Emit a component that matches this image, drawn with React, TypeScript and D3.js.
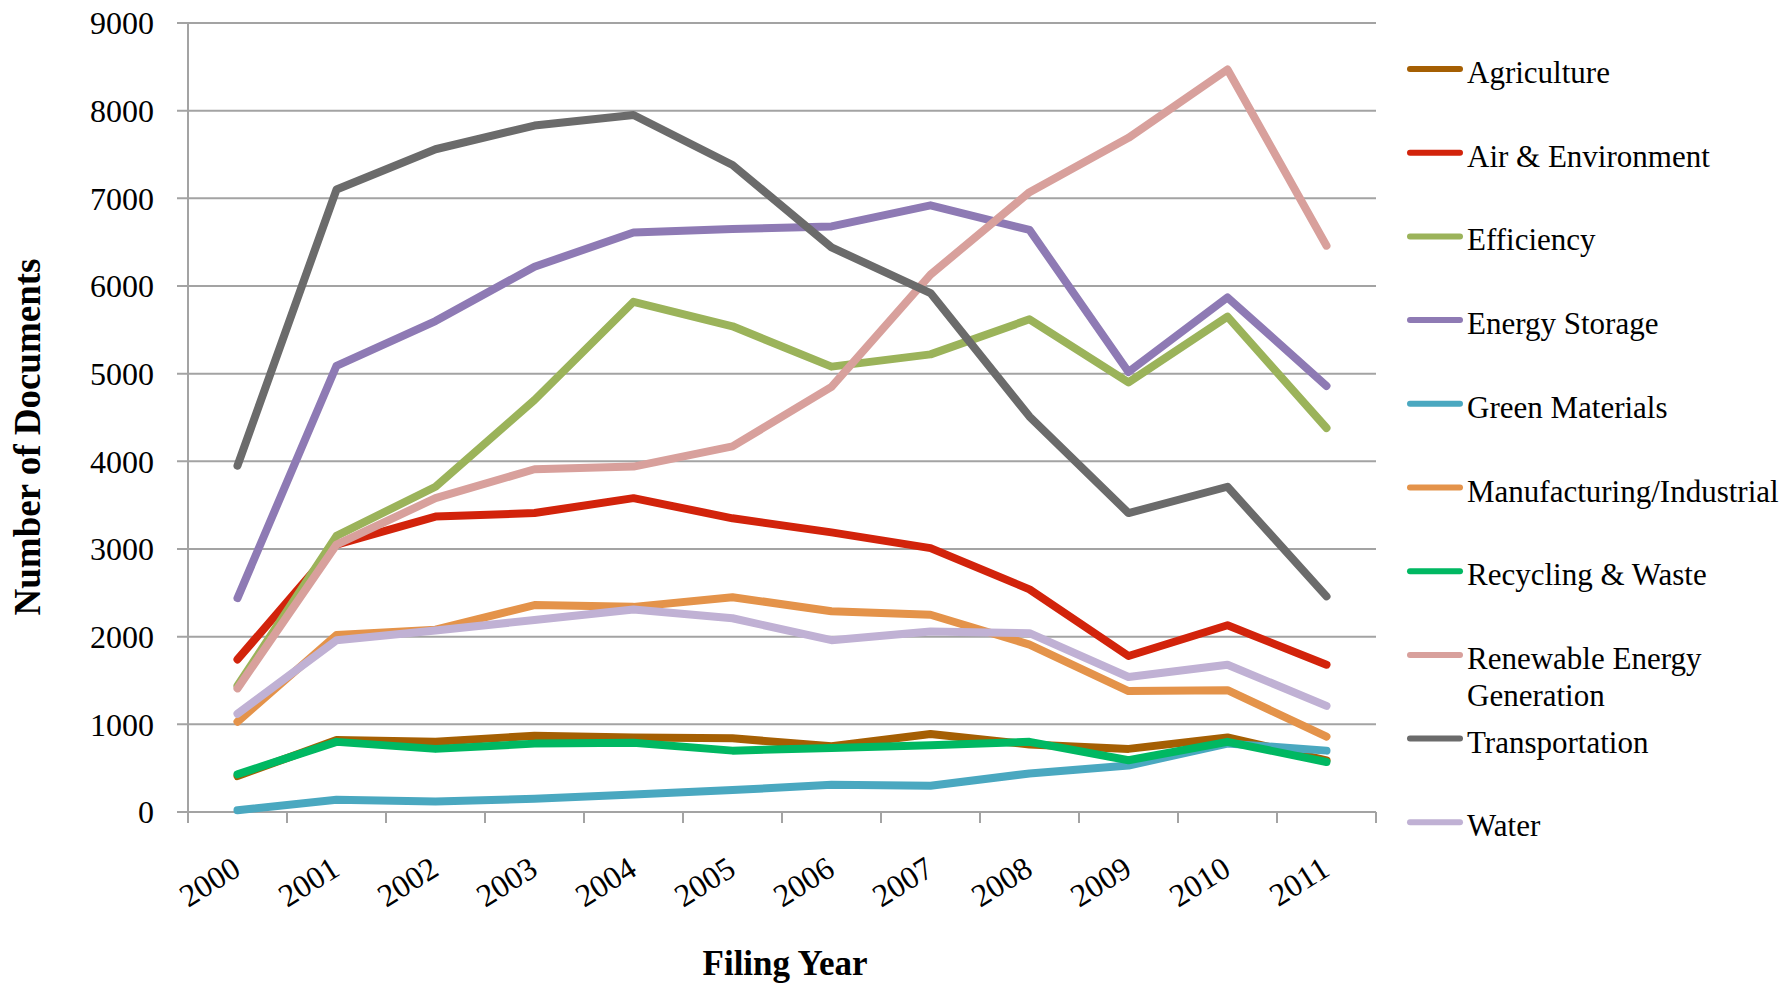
import * as d3 from "d3";

const years = ["2000", "2001", "2002", "2003", "2004", "2005", "2006", "2007", "2008", "2009", "2010", "2011"];
const yTicks = [0, 1000, 2000, 3000, 4000, 5000, 6000, 7000, 8000, 9000];

const agriculture = [410, 820, 800, 870, 850, 840, 750, 890, 770, 720, 850, 590];
const airEnvironment = [1740, 3050, 3370, 3410, 3580, 3350, 3190, 3010, 2540, 1780, 2130, 1680];
const efficiency = [1440, 3150, 3710, 4700, 5820, 5540, 5080, 5220, 5620, 4900, 5650, 4380];
const energyStorage = [2440, 5090, 5600, 6220, 6610, 6650, 6680, 6920, 6640, 5020, 5870, 4860];
const greenMaterials = [20, 140, 120, 150, 200, 250, 310, 300, 440, 530, 780, 700];
const manufacturing = [1030, 2020, 2080, 2360, 2340, 2450, 2290, 2250, 1910, 1380, 1390, 860];
const recycling = [430, 800, 720, 780, 790, 700, 730, 760, 800, 590, 800, 570];
const renewable = [1410, 3050, 3580, 3910, 3940, 4170, 4850, 6130, 7070, 7690, 8470, 6460];
const transportation = [3950, 7100, 7560, 7830, 7950, 7380, 6440, 5920, 4510, 3410, 3710, 2460];
const water = [1120, 1960, 2070, 2190, 2310, 2210, 1960, 2060, 2040, 1540, 1680, 1210];

const seriesNames = [
  ["Agriculture"],
  ["Air & Environment"],
  ["Efficiency"],
  ["Energy Storage"],
  ["Green Materials"],
  ["Manufacturing/Industrial"],
  ["Recycling & Waste"],
  ["Renewable Energy", "Generation"],
  ["Transportation"],
  ["Water"],
];
const seriesValues = [
  agriculture, airEnvironment, efficiency, energyStorage, greenMaterials,
  manufacturing, recycling, renewable, transportation, water,
];
const colors = [
  "#a55f03", "#d2230b", "#9bb35a", "#8e7ab4", "#4aa8c0",
  "#e4934a", "#00b862", "#d8a09c", "#6b6b6b", "#c0b1d4",
];

const W = 1788;
const H = 983;
const font = "Liberation Serif, serif";
const gridColor = "#a3a3a3";

export default function App() {
  const x = d3.scaleBand().domain(years).range([188, 1376]);
  const y = d3.scaleLinear().domain([0, 9000]).range([812, 23]);
  const cx = (yr: string) => (x(yr) ?? 0) + x.bandwidth() / 2;

  const line = d3
    .line<number>()
    .x((_, i) => cx(years[i]))
    .y((d) => y(d));

  const bounds = years.map((yr) => x(yr) ?? 0).concat([x.range()[1]]);

  return (
    <div style={{ position: "absolute", left: 0, top: 0 }}>
      <svg width={W} height={H} style={{ display: "block", background: "#fff", fontFamily: font }}>
        {/* grid + y ticks */}
        {yTicks.map((t) => (
          <g key={t}>
            <line x1={177} x2={1376} y1={y(t)} y2={y(t)} stroke={gridColor} strokeWidth={2} />
            <text x={154} y={y(t)} dy="0.35em" textAnchor="end" fontSize={32} fill="#000">
              {t}
            </text>
          </g>
        ))}
        <line x1={188} x2={188} y1={y(9000)} y2={y(0)} stroke={gridColor} strokeWidth={2} />
        {bounds.map((b, i) => (
          <line key={i} x1={b} x2={b} y1={y(0)} y2={y(0) + 11} stroke={gridColor} strokeWidth={2} />
        ))}
        {years.map((yr) => (
          <text
            key={yr}
            transform={`translate(${cx(yr) + 5},${874}) rotate(-32)`}
            textAnchor="end"
            fontSize={32}
            fill="#000"
          >
            {yr}
          </text>
        ))}

        {seriesValues.map((vals, i) => (
          <path
            key={i}
            d={line(vals) ?? ""}
            fill="none"
            stroke={colors[i]}
            strokeWidth={8}
            strokeLinejoin="round"
            strokeLinecap="round"
          />
        ))}

        <text
          transform={`translate(40,437) rotate(-90)`}
          textAnchor="middle"
          fontSize={37}
          fontWeight="bold"
          fill="#000"
        >
          Number of Documents
        </text>
        <text x={785} y={975} textAnchor="middle" fontSize={35} fontWeight="bold" fill="#000">
          Filing Year
        </text>

        {seriesNames.map((lines, i) => {
          const ly = 69 + i * 83.7;
          return (
            <g key={i}>
              <line x1={1410} x2={1460} y1={ly} y2={ly} stroke={colors[i]} strokeWidth={6} strokeLinecap="round" />
              {lines.map((s, j) => (
                <text key={j} x={1467} y={ly + 14 + j * 37} fontSize={31} fill="#000">
                  {s}
                </text>
              ))}
            </g>
          );
        })}
      </svg>
    </div>
  );
}
